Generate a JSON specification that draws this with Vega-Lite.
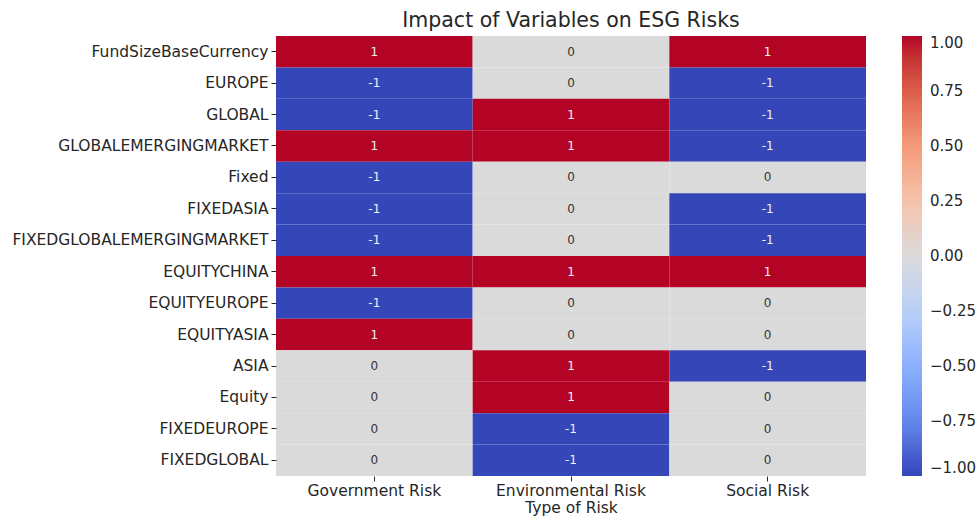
{
  "$schema": "https://vega.github.io/schema/vega-lite/v6.json",
  "autosize": "none",
  "width": 590,
  "height": 440,
  "padding": {"left": 276, "top": 36, "right": 111, "bottom": 42},
  "background": "white",
  "config": {
    "font": "DejaVu Sans",
    "view": {"stroke": null},
    "axis": {"labelFont": "DejaVu Sans", "titleFont": "DejaVu Sans", "labelColor": "#262626", "titleColor": "#262626", "tickColor": "#262626", "domain": false, "grid": false, "labelLimit": 400}
  },
  "title": {"text": "Impact of Variables on ESG Risks", "fontSize": 20.5, "fontWeight": "normal", "color": "#262626", "offset": 5, "anchor": "middle", "font": "DejaVu Sans"},
  "data": {"values": [
    {"variable": "FundSizeBaseCurrency", "risk": "Government Risk", "value": 1},
    {"variable": "FundSizeBaseCurrency", "risk": "Environmental Risk", "value": 0},
    {"variable": "FundSizeBaseCurrency", "risk": "Social Risk", "value": 1},
    {"variable": "EUROPE", "risk": "Government Risk", "value": -1},
    {"variable": "EUROPE", "risk": "Environmental Risk", "value": 0},
    {"variable": "EUROPE", "risk": "Social Risk", "value": -1},
    {"variable": "GLOBAL", "risk": "Government Risk", "value": -1},
    {"variable": "GLOBAL", "risk": "Environmental Risk", "value": 1},
    {"variable": "GLOBAL", "risk": "Social Risk", "value": -1},
    {"variable": "GLOBALEMERGINGMARKET", "risk": "Government Risk", "value": 1},
    {"variable": "GLOBALEMERGINGMARKET", "risk": "Environmental Risk", "value": 1},
    {"variable": "GLOBALEMERGINGMARKET", "risk": "Social Risk", "value": -1},
    {"variable": "Fixed", "risk": "Government Risk", "value": -1},
    {"variable": "Fixed", "risk": "Environmental Risk", "value": 0},
    {"variable": "Fixed", "risk": "Social Risk", "value": 0},
    {"variable": "FIXEDASIA", "risk": "Government Risk", "value": -1},
    {"variable": "FIXEDASIA", "risk": "Environmental Risk", "value": 0},
    {"variable": "FIXEDASIA", "risk": "Social Risk", "value": -1},
    {"variable": "FIXEDGLOBALEMERGINGMARKET", "risk": "Government Risk", "value": -1},
    {"variable": "FIXEDGLOBALEMERGINGMARKET", "risk": "Environmental Risk", "value": 0},
    {"variable": "FIXEDGLOBALEMERGINGMARKET", "risk": "Social Risk", "value": -1},
    {"variable": "EQUITYCHINA", "risk": "Government Risk", "value": 1},
    {"variable": "EQUITYCHINA", "risk": "Environmental Risk", "value": 1},
    {"variable": "EQUITYCHINA", "risk": "Social Risk", "value": 1},
    {"variable": "EQUITYEUROPE", "risk": "Government Risk", "value": -1},
    {"variable": "EQUITYEUROPE", "risk": "Environmental Risk", "value": 0},
    {"variable": "EQUITYEUROPE", "risk": "Social Risk", "value": 0},
    {"variable": "EQUITYASIA", "risk": "Government Risk", "value": 1},
    {"variable": "EQUITYASIA", "risk": "Environmental Risk", "value": 0},
    {"variable": "EQUITYASIA", "risk": "Social Risk", "value": 0},
    {"variable": "ASIA", "risk": "Government Risk", "value": 0},
    {"variable": "ASIA", "risk": "Environmental Risk", "value": 1},
    {"variable": "ASIA", "risk": "Social Risk", "value": -1},
    {"variable": "Equity", "risk": "Government Risk", "value": 0},
    {"variable": "Equity", "risk": "Environmental Risk", "value": 1},
    {"variable": "Equity", "risk": "Social Risk", "value": 0},
    {"variable": "FIXEDEUROPE", "risk": "Government Risk", "value": 0},
    {"variable": "FIXEDEUROPE", "risk": "Environmental Risk", "value": -1},
    {"variable": "FIXEDEUROPE", "risk": "Social Risk", "value": 0},
    {"variable": "FIXEDGLOBAL", "risk": "Government Risk", "value": 0},
    {"variable": "FIXEDGLOBAL", "risk": "Environmental Risk", "value": -1},
    {"variable": "FIXEDGLOBAL", "risk": "Social Risk", "value": 0}
  ]},
  "encoding": {
    "x": {"field": "risk", "type": "nominal", "sort": null, "scale": {"paddingInner": 0, "paddingOuter": 0},
      "axis": {"title": "Type of Risk", "labelAngle": 0, "labelFontSize": 15.5, "titleFontSize": 15.5, "titleFontWeight": "normal", "tickSize": 5, "labelPadding": 2, "titlePadding": 2}},
    "y": {"field": "variable", "type": "nominal", "sort": null, "scale": {"paddingInner": 0, "paddingOuter": 0},
      "axis": {"title": null, "labelFontSize": 15.5, "tickSize": 5, "labelPadding": 3}}
  },
  "layer": [
    {
      "mark": {"type": "rect"},
      "encoding": {
        "color": {"field": "value", "type": "quantitative",
          "scale": {"domain": [-1, -0.75, -0.5, -0.25, 0, 0.25, 0.5, 0.75, 1],
                    "range": ["#3446b8", "#6788ee", "#8db0fe", "#b9d0f9", "#dadada", "#f5c4ac", "#f49a7b", "#dc5d4a", "#b40426"]},
          "legend": {"title": null, "orient": "none", "legendX": 626, "legendY": 0, "direction": "vertical",
            "gradientLength": 440, "gradientThickness": 20, "gradientStrokeWidth": 0,
            "values": [-1, -0.75, -0.5, -0.25, 0, 0.25, 0.5, 0.75, 1], "format": ".2f",
            "labelFontSize": 15, "labelColor": "#262626", "labelOffset": 8, "labelOverlap": false}}
      }
    },
    {
      "mark": {"type": "text", "fontSize": 12},
      "encoding": {
        "text": {"field": "value", "type": "nominal"},
        "color": {"condition": {"test": "datum.value === 0", "value": "#333333"}, "value": "#f2f2f2"}
      }
    }
  ]
}
